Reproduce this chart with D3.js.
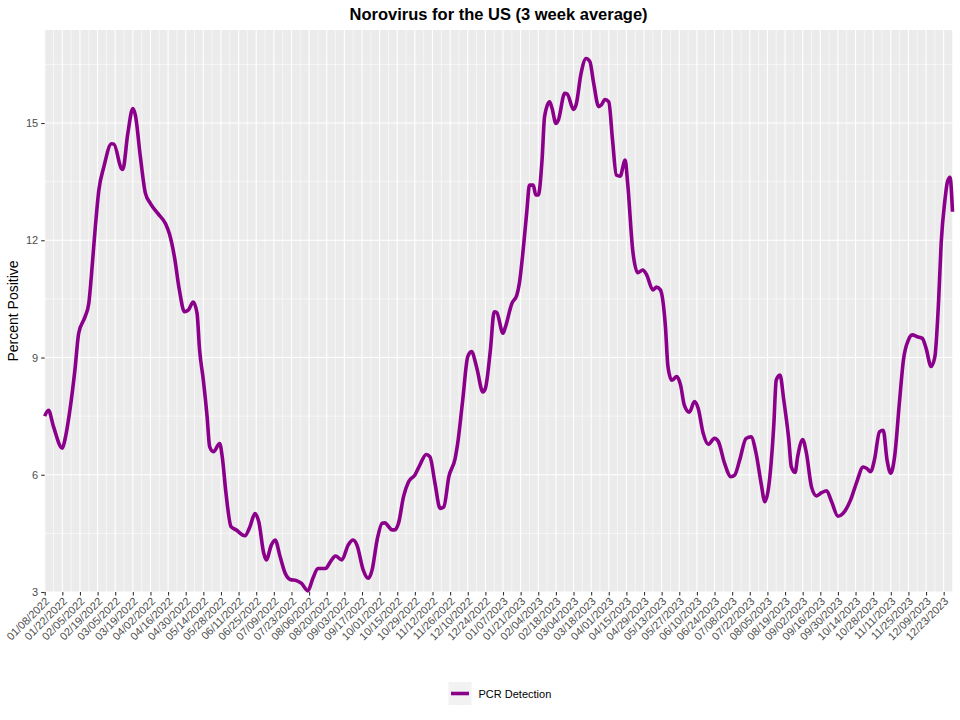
<!DOCTYPE html>
<html><head><meta charset="utf-8">
<script src="https://cdn.jsdelivr.net/npm/d3@7"></script>
<style>
body{margin:0;background:#fff;}
text{font-family:"Liberation Sans",Arial,Helvetica,sans-serif;}
</style>
</head><body>
<svg id="chart" width="960" height="720"></svg>
<script>
const chartTitle = "Norovirus for the US (3 week average)";
const yAxisTitle = "Percent Positive";
const seriesName = "PCR Detection";
const startDate = "2022-01-08";
const endDate = "2023-12-30";
const yTicks = [3, 6, 9, 12, 15];
const yMinorTicks = [4.5, 7.5, 10.5, 13.5, 16.5];
const yDomain = [3, 17.38];
// days since startDate for each sample
const dayOffsets = [0,3,7,14,16,20,24,27,32,35,37,40,43,47,53,55,61,62,66,70,72,76,80,84,90,96,99,103,107,111,114,118,121,123,126,129,131,134,139,141,144,148,152,159,163,167,170,174,176,180,183,187,191,195,200,204,209,213,217,223,227,231,236,241,245,248,253,257,260,264,268,270,276,278,281,285,289,294,298,303,306,310,314,317,321,326,328,332,336,339,343,348,350,354,357,359,364,366,371,375,377,380,383,385,388,390,392,395,397,401,403,406,408,413,415,420,422,426,430,433,436,440,442,445,448,451,454,457,461,463,467,471,475,478,483,486,489,493,495,498,502,505,508,512,516,519,523,527,532,535,540,545,548,552,557,561,565,569,572,575,579,581,584,587,591,593,596,598,602,605,609,613,617,621,625,630,634,640,645,650,653,656,659,663,666,669,672,675,679,682,686,689,693,697,700,704,707,710,712,715,717,719,721];
const pcrPercent = [7.5,7.65,7.23,6.68,6.89,7.65,8.68,9.62,10.04,10.38,11.06,12.26,13.28,13.88,14.47,14.46,13.83,13.81,14.73,15.37,15.2,14.13,13.2,12.94,12.68,12.42,12.17,11.58,10.72,10.17,10.21,10.42,10.13,9.2,8.42,7.48,6.72,6.59,6.8,6.46,5.52,4.67,4.59,4.44,4.67,5.01,4.8,3.99,3.82,4.2,4.33,3.9,3.48,3.32,3.29,3.22,3.03,3.35,3.6,3.6,3.78,3.92,3.82,4.2,4.33,4.2,3.56,3.35,3.56,4.33,4.76,4.77,4.59,4.59,4.76,5.44,5.82,5.99,6.25,6.52,6.46,5.78,5.14,5.18,5.95,6.42,6.8,7.91,9.02,9.15,8.76,8.12,8.21,9.2,10.17,10.15,9.62,9.79,10.38,10.6,10.9,11.75,12.77,13.41,13.41,13.16,13.16,14.05,15.16,15.54,15.37,14.99,15.08,15.76,15.74,15.35,15.46,16.27,16.65,16.57,16.02,15.42,15.46,15.6,15.54,14.56,13.67,13.64,14.05,13.46,11.75,11.17,11.24,11.12,10.73,10.8,10.73,9.79,8.77,8.42,8.51,8.3,7.78,7.6,7.87,7.7,7.06,6.78,6.93,6.85,6.29,5.95,5.99,6.38,6.93,6.97,6.55,5.78,5.31,5.69,7.23,8.42,8.55,7.91,6.89,6.2,6.06,6.46,6.9,6.55,5.69,5.46,5.54,5.59,5.31,4.94,5.01,5.35,5.82,6.2,6.16,6.08,6.38,7.1,7.14,6.38,6.04,6.46,7.91,8.93,9.45,9.58,9.53,9.49,9.24,8.77,9.02,10.47,11.92,13.03,13.5,13.61,12.73];

const lineColor = "#8B008B";
const parse = d3.timeParse("%Y-%m-%d");
const t0 = parse(startDate), t1 = parse(endDate);
const data = dayOffsets.map((d, i) => ({date: d3.timeDay.offset(t0, d), v: pcrPercent[i]}));

const svg = d3.select("#chart");
const m = {left: 44.7, right: 7.5, top: 30, bottom: 128};
const W = 960, H = 720;
const x = d3.scaleTime().domain([t0, t1]).range([m.left, W - m.right]);
const y = d3.scaleLinear().domain(yDomain).range([H - m.bottom, m.top]);

// panel
svg.append("rect").attr("x", m.left).attr("y", m.top)
  .attr("width", W - m.right - m.left).attr("height", H - m.bottom - m.top)
  .attr("fill", "#ebebeb");

const majorDates = d3.timeDay.every(14).range ? null : null;
const weekly = d3.range(0, 722, 7).map(d => d3.timeDay.offset(t0, d)).filter(d => d <= t1);
const biweekly = weekly.filter((d, i) => i % 2 === 0);
const minorWeeks = weekly.filter((d, i) => i % 2 === 1);

const grid = svg.append("g");
grid.selectAll(".hmin").data(yMinorTicks).join("line")
  .attr("x1", m.left).attr("x2", W - m.right)
  .attr("y1", d => y(d)).attr("y2", d => y(d))
  .attr("stroke", "#fff").attr("stroke-width", 0.55);
grid.selectAll(".vmin").data(minorWeeks).join("line")
  .attr("x1", d => x(d)).attr("x2", d => x(d))
  .attr("y1", m.top).attr("y2", H - m.bottom)
  .attr("stroke", "#fff").attr("stroke-width", 0.55);
grid.selectAll(".hmaj").data(yTicks).join("line")
  .attr("x1", m.left).attr("x2", W - m.right)
  .attr("y1", d => y(d)).attr("y2", d => y(d))
  .attr("stroke", "#fff").attr("stroke-width", 1.1);
grid.selectAll(".vmaj").data(biweekly).join("line")
  .attr("x1", d => x(d)).attr("x2", d => x(d))
  .attr("y1", m.top).attr("y2", H - m.bottom)
  .attr("stroke", "#fff").attr("stroke-width", 1.1);

// line
const line = d3.line().x(d => x(d.date)).y(d => y(d.v)).curve(d3.curveMonotoneX);
svg.append("path").datum(data).attr("d", line)
  .attr("fill", "none").attr("stroke", lineColor).attr("stroke-width", 3.6)
  .attr("stroke-linejoin", "round").attr("stroke-linecap", "butt");

// x axis
const fmt = d3.timeFormat("%m/%d/%Y");
const xAxis = d3.axisBottom(x).tickValues(biweekly).tickFormat(fmt).tickSize(3.5).tickPadding(2);
const gx = svg.append("g").attr("transform", `translate(0,${H - m.bottom})`).call(xAxis);
gx.select(".domain").remove();
gx.selectAll(".tick line").attr("stroke", "#333").attr("stroke-width", 1.1);
gx.selectAll(".tick text")
  .attr("fill", "#4d4d4d").attr("font-size", 11)
  .attr("text-anchor", "end")
  .attr("dy", null).attr("y", 0)
  .attr("transform", "translate(5,10) rotate(-45)");

// y axis
const yAxis = d3.axisLeft(y).tickValues(yTicks).tickSize(3.5).tickPadding(3);
const gy = svg.append("g").attr("transform", `translate(${m.left},0)`).call(yAxis);
gy.select(".domain").remove();
gy.selectAll(".tick line").attr("stroke", "#333").attr("stroke-width", 1.1);
gy.selectAll(".tick text").attr("fill", "#4d4d4d").attr("font-size", 11);

// titles
svg.append("text").attr("x", (m.left + W - m.right) / 2).attr("y", 20)
  .attr("text-anchor", "middle").attr("font-size", 16.5).attr("font-weight", "bold")
  .attr("fill", "#000").text(chartTitle);
svg.append("text").attr("transform", `translate(18,${(m.top + H - m.bottom) / 2}) rotate(-90)`)
  .attr("text-anchor", "middle").attr("font-size", 14).attr("fill", "#000").text(yAxisTitle);

// legend
const lg = svg.append("g").attr("transform", "translate(448.5,682)");
lg.append("rect").attr("width", 23).attr("height", 23).attr("fill", "#f2f2f2");
lg.append("line").attr("x1", 2.5).attr("x2", 20.5).attr("y1", 11.5).attr("y2", 11.5)
  .attr("stroke", lineColor).attr("stroke-width", 3.6);
lg.append("text").attr("x", 30).attr("y", 15.5).attr("font-size", 11).attr("fill", "#000").text(seriesName);
</script>
</body></html>
